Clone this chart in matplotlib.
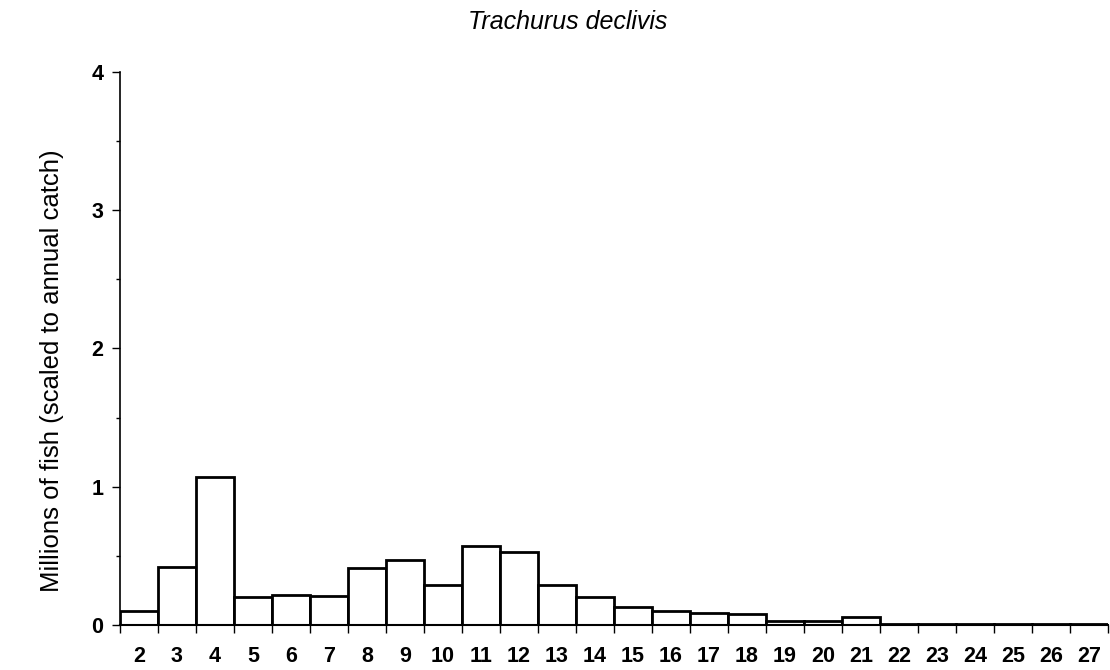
import numpy as np
import matplotlib
matplotlib.use("Agg")
import matplotlib.pyplot as plt
from matplotlib.ticker import MultipleLocator

plt.rcParams['font.family'] = ['Liberation Sans', 'DejaVu Sans']

# length classes and estimated numbers (millions of fish)
length_class = list(range(2, 28))
millions = [0.10, 0.42, 1.07, 0.20, 0.22, 0.21, 0.41, 0.47, 0.29, 0.57,
            0.53, 0.29, 0.20, 0.13, 0.10, 0.09, 0.08, 0.03, 0.03, 0.06,
            0.01, 0.01, 0.01, 0.01, 0.01, 0.01]

fig = plt.figure(figsize=(11.1, 6.7), dpi=100)
ax = fig.add_axes([0.108, 0.067, 0.89, 0.826])

x = np.arange(len(length_class))
ax.bar(x, millions, width=1.0, color="white", edgecolor="black",
       linewidth=2.0, zorder=2)

ax.set_xlim(-0.5, len(length_class) - 0.5)
ax.set_ylim(0, 4)

# ticks on the bin edges, labels under the bar centres
ax.set_xticks(np.arange(len(length_class) + 1) - 0.5)
ax.set_xticklabels([])
ax.set_xticks(x, minor=True)
ax.set_xticklabels([str(v) for v in length_class], minor=True)
ax.tick_params(axis="x", which="major", direction="out", length=6, width=1)
ax.tick_params(axis="x", which="minor", length=0, pad=15, labelsize=15.5)

ax.yaxis.set_major_locator(MultipleLocator(1))
ax.yaxis.set_minor_locator(MultipleLocator(0.5))
ax.tick_params(axis="y", which="major", direction="out", length=6, width=1,
               pad=6, labelsize=15.5)
ax.tick_params(axis="y", which="minor", direction="out", length=3, width=1)
for lab in ax.get_yticklabels() + ax.get_xticklabels(minor=True):
    lab.set_fontweight("bold")

ax.spines["top"].set_visible(False)
ax.spines["right"].set_visible(False)
ax.spines["left"].set_linewidth(1.2)
ax.spines["bottom"].set_linewidth(1.5)

ax.set_ylabel("Millions of fish (scaled to annual catch)", fontsize=18.5)
ax.yaxis.set_label_coords(-0.057, 0.46)
fig.text(0.511, 0.967, "Trachurus declivis", fontsize=18, style="italic",
         ha="center", va="center")

fig.savefig("out.png", dpi=100)
